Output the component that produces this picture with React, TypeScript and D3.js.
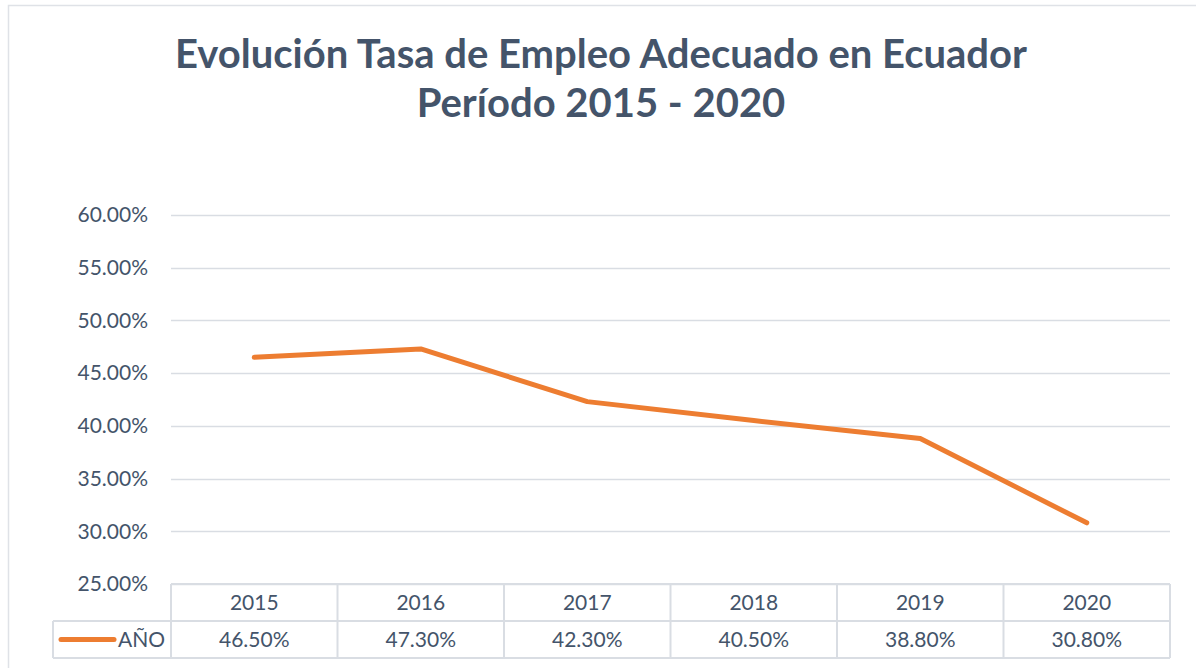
import { useEffect, useRef } from 'react';
import * as d3 from 'd3';

const years = ['2015', '2016', '2017', '2018', '2019', '2020'];
const rates = [46.5, 47.3, 42.3, 40.5, 38.8, 30.8];
const yTicks = [25, 30, 35, 40, 45, 50, 55, 60];
const seriesName = 'AÑO';
const titleLines = ['Evolución Tasa de Empleo Adecuado en Ecuador', 'Período 2015 - 2020'];

const W = 1196;
const H = 668;
const FONT = 'Lato, "Open Sans", sans-serif';
const TEXT = '#44546a';
const GRID = '#d9dde3';
const ORANGE = '#ed7d31';

export default function App() {
  const svgRef = useRef<SVGSVGElement | null>(null);

  useEffect(() => {
    if (!svgRef.current) return;
    const svg = d3.select(svgRef.current);
    svg.selectAll('*').remove();

    const margin = { top: 215, left: 171, right: 26, bottom: 84 };
    const plotW = W - margin.left - margin.right;
    const plotH = H - margin.top - margin.bottom;

    // chart border
    svg.append('rect')
      .attr('x', 8.5).attr('y', 5.5)
      .attr('width', W).attr('height', H)
      .attr('fill', '#fff')
      .attr('stroke', '#dfe2e7')
      .attr('stroke-width', 1.5);

    // title
    svg.append('g')
      .selectAll('text')
      .data(titleLines)
      .join('text')
      .attr('x', 601)
      .attr('y', (_, i) => 68 + i * 49)
      .attr('text-anchor', 'middle')
      .attr('fill', TEXT)
      .attr('font-family', FONT)
      .attr('font-weight', 700)
      .attr('font-size', '40px')
      .text((d) => d);

    const g = svg.append('g').attr('transform', `translate(${margin.left},${margin.top})`);

    const x = d3.scaleBand().domain(years).range([0, plotW]);
    const y = d3.scaleLinear().domain([25, 60]).range([plotH, 0]);

    // gridlines
    g.append('g')
      .selectAll('line')
      .data(yTicks)
      .join('line')
      .attr('x1', 0).attr('x2', plotW)
      .attr('y1', (d) => Math.round(y(d)) + 0.5)
      .attr('y2', (d) => Math.round(y(d)) + 0.5)
      .attr('stroke', GRID)
      .attr('stroke-width', 1.5);

    // y labels
    g.append('g')
      .selectAll('text')
      .data(yTicks)
      .join('text')
      .attr('x', -23)
      .attr('y', (d) => y(d))
      .attr('dy', '0.35em')
      .attr('text-anchor', 'end')
      .attr('fill', TEXT)
      .attr('font-family', FONT)
      .attr('font-size', '21px')
      .text((d) => d3.format('.2f')(d) + '%');

    // line
    const line = d3.line<number>()
      .x((_, i) => (x(years[i]) ?? 0) + x.bandwidth() / 2)
      .y((d) => y(d));

    g.append('path')
      .datum(rates)
      .attr('fill', 'none')
      .attr('stroke', ORANGE)
      .attr('stroke-width', 5)
      .attr('stroke-linejoin', 'round')
      .attr('stroke-linecap', 'round')
      .attr('d', line);

    // data table
    const rowH = 37;
    const legendLeft = 53 - margin.left;
    const tbl = g.append('g').attr('transform', `translate(0,${plotH})`);

    const tableLines: [number, number, number, number][] = [
      [0, 0, plotW, 0],
      [legendLeft, rowH, plotW, rowH],
      [legendLeft, rowH * 2, plotW, rowH * 2],
      [legendLeft, rowH, legendLeft, rowH * 2],
      ...years.map((yr) => [x(yr) ?? 0, 0, x(yr) ?? 0, rowH * 2] as [number, number, number, number]),
      [plotW, 0, plotW, rowH * 2],
    ];
    tbl.selectAll('line')
      .data(tableLines)
      .join('line')
      .attr('x1', (d) => d[0]).attr('y1', (d) => d[1])
      .attr('x2', (d) => d[2]).attr('y2', (d) => d[3])
      .attr('stroke', GRID)
      .attr('stroke-width', 2);

    tbl.append('g')
      .selectAll('text')
      .data(years)
      .join('text')
      .attr('x', (d) => (x(d) ?? 0) + x.bandwidth() / 2)
      .attr('y', rowH / 2)
      .attr('dy', '0.35em')
      .attr('text-anchor', 'middle')
      .attr('fill', TEXT)
      .attr('font-family', FONT)
      .attr('font-size', '21px')
      .text((d) => d);

    tbl.append('g')
      .selectAll('text')
      .data(rates)
      .join('text')
      .attr('x', (_, i) => (x(years[i]) ?? 0) + x.bandwidth() / 2)
      .attr('y', rowH * 1.5)
      .attr('dy', '0.35em')
      .attr('text-anchor', 'middle')
      .attr('fill', TEXT)
      .attr('font-family', FONT)
      .attr('font-size', '21px')
      .text((d) => d3.format('.2f')(d) + '%');

    // legend key
    tbl.append('line')
      .attr('x1', 61 - margin.left).attr('x2', 114 - margin.left)
      .attr('y1', rowH * 1.5).attr('y2', rowH * 1.5)
      .attr('stroke', ORANGE)
      .attr('stroke-width', 5)
      .attr('stroke-linecap', 'round');
    tbl.append('text')
      .attr('x', 118 - margin.left)
      .attr('y', rowH * 1.5)
      .attr('dy', '0.35em')
      .attr('fill', TEXT)
      .attr('font-family', FONT)
      .attr('font-size', '21px')
      .text(seriesName);
  }, []);

  return (
    <div style={{ position: 'fixed', left: 0, top: 0, width: W, height: H, background: '#fff' }}>
      <svg ref={svgRef} width={W} height={H} style={{ display: 'block' }} />
    </div>
  );
}
